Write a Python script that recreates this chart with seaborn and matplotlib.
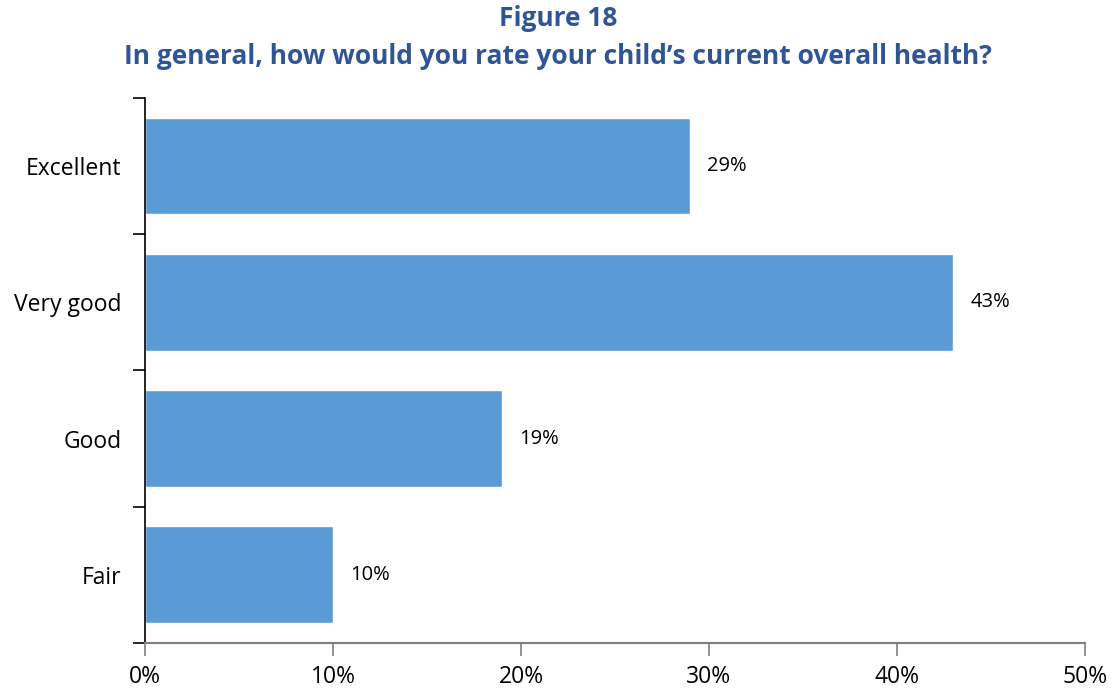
import matplotlib
matplotlib.use("Agg")
import matplotlib.pyplot as plt
import seaborn as sns
import pandas as pd
from matplotlib.ticker import FixedLocator, PercentFormatter

categories = ["Excellent", "Very good", "Good", "Fair"]
values = [29, 43, 19, 10]
x_ticks = [0, 10, 20, 30, 40, 50]

sns.set_theme(style="white")
plt.rcParams["font.family"] = ["Open Sans", "DejaVu Sans"]

df = pd.DataFrame({"rating": categories, "pct": values})

fig = plt.figure(figsize=(11.16, 6.93), dpi=100)
ax = fig.add_axes([0.1299, 0.0722, 0.9722 - 0.1299, 0.8586 - 0.0722])

sns.barplot(data=df, x="pct", y="rating", orient="h", color="#5B9BD5",
            saturation=1, width=0.71, ax=ax)

ax.set_xlim(0, 50)
ax.set_ylim(len(categories) - 0.5, -0.5)
ax.set_xticks(x_ticks)
ax.xaxis.set_major_formatter(PercentFormatter(decimals=0))
ax.set_xlabel("")
ax.set_ylabel("")

# category labels sit between boundary tick marks
ax.tick_params(axis="y", which="major", length=0, pad=17, labelsize=16.5, labelcolor="black")
ax.yaxis.set_minor_locator(FixedLocator([i - 0.5 for i in range(len(categories) + 1)]))
ax.tick_params(axis="y", which="minor", left=True, length=9, width=1.2, color="black")
ax.tick_params(axis="x", which="major", bottom=True, length=9, width=1.2,
               color="#7f7f7f", labelsize=16.5, labelcolor="black", pad=7)

for s in ["top", "right"]:
    ax.spines[s].set_visible(False)
ax.spines["left"].set_color("black")
ax.spines["left"].set_linewidth(1.2)
ax.spines["bottom"].set_color("#7f7f7f")
ax.spines["bottom"].set_linewidth(1.5)

for i, v in enumerate(values):
    ax.text(v + 0.9, i, f"{v}%", va="center", ha="left", fontsize=14.5, color="black")

fig.text(0.5, 0.974, "Figure 18", ha="center", va="center", fontsize=19,
         fontweight="bold", color="#2F5597")
fig.text(0.5, 0.918, "In general, how would you rate your child\u2019s current overall health?",
         ha="center", va="center", fontsize=19, fontweight="bold", color="#2F5597")

fig.savefig("out.png", dpi=100)
